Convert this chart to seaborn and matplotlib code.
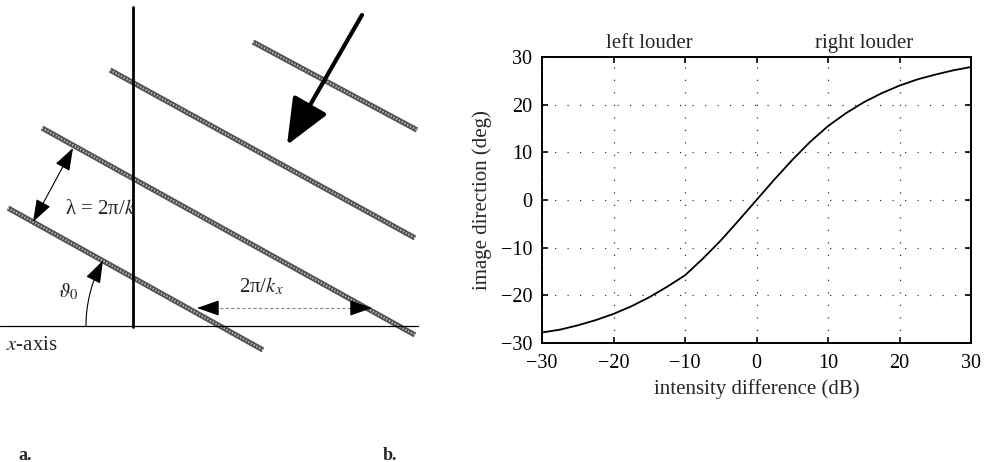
import numpy as np
import pandas as pd
import matplotlib
matplotlib.use("Agg")
import matplotlib.pyplot as plt
import seaborn as sns

# ---- data (panel b) ----
intensity_db = [-30, -27.5, -25, -22.5, -20, -17.5, -15, -12.5, -10, -7.5, -5, -2.5,
                0, 2.5, 5, 7.5, 10, 12.5, 15, 17.5, 20, 22.5, 25, 27.5, 30]
direction_deg = [-27.8, -27.2, -26.3, -25.2, -23.9, -22.3, -20.4, -18.2, -15.8, -12.3, -8.5, -4.3,
                 0.0, 4.3, 8.4, 12.2, 15.5, 18.2, 20.5, 22.4, 24.0, 25.3, 26.3, 27.2, 27.9]
x_ticks = [-30, -20, -10, 0, 10, 20, 30]
y_ticks = [-30, -20, -10, 0, 10, 20, 30]
top_labels = ["left louder", "right louder"]
top_label_pos = [-15, 15]

sns.set_theme(style="ticks")
plt.rcParams["font.family"] = ["Liberation Serif", "DejaVu Serif"]
plt.rcParams["mathtext.fontset"] = "stix"
plt.rcParams["axes.unicode_minus"] = True

W, H = 989, 462
fig = plt.figure(figsize=(W / 100, H / 100), dpi=100)
fig.patch.set_facecolor("white")

# ---------------- panel a: diagram ----------------
ax0 = fig.add_axes([0, 0, 450 / W, 1])
ax0.set_xlim(0, 450)
ax0.set_ylim(H, 0)
ax0.axis("off")

# wavefronts (hatched grey lines)
wavefronts = [((253, 42), (417, 130)),
              ((110, 70), (415, 238)),
              ((42, 128), (415, 335)),
              ((8, 208), (263, 350))]
for (x1, y1), (x2, y2) in wavefronts:
    ax0.plot([x1, x2], [y1, y2], color="#505050", lw=3.8, solid_capstyle="butt", zorder=2)
    ax0.plot([x1, x2], [y1, y2], color="#c4c4c4", lw=1.5, ls=(0, (0.6, 0.9)),
             solid_capstyle="butt", zorder=3)

# vertical line and x-axis
ax0.plot([133, 133], [7, 327], color="black", lw=2.0, zorder=4)
ax0.plot([0, 418], [326, 326], color="black", lw=0.9, zorder=4)

# big propagation arrow
ax0.annotate("", xy=(287, 145), xytext=(362, 15),
             arrowprops=dict(arrowstyle="-|>,head_length=1.3,head_width=0.55",
                             lw=3.0, color="black", mutation_scale=22, shrinkA=0, shrinkB=0),
             zorder=5)

# lambda double arrow
ax0.annotate("", xy=(73, 148), xytext=(33, 222),
             arrowprops=dict(arrowstyle="<|-|>,head_length=1.0,head_width=0.35",
                             lw=0.8, color="black", mutation_scale=14, shrinkA=0, shrinkB=0),
             zorder=5)
ax0.text(100, 209, "λ = 2π/$k$", fontsize=15, ha="center", va="center")

# theta arc
cx, cy, r = 221, 326, 135
phi = np.radians(np.linspace(180, 153, 60))
ax0.plot(cx + r * np.cos(phi), cy - r * np.sin(phi), color="black", lw=0.8, zorder=5)
pe = np.radians(151)
ps = np.radians(156)
ax0.annotate("", xy=(cx + r * np.cos(pe), cy - r * np.sin(pe)),
             xytext=(cx + r * np.cos(ps), cy - r * np.sin(ps)),
             arrowprops=dict(arrowstyle="-|>,head_length=1.0,head_width=0.35",
                             lw=0.8, color="black", mutation_scale=14, shrinkA=0, shrinkB=0),
             zorder=5)
ax0.text(68, 292, r"$\vartheta_0$", fontsize=15, ha="center", va="center")

# 2pi/kx dimension
ax0.plot([214, 356], [308, 308], color="#888888", lw=0.8, ls=(0, (3, 2)), zorder=4)
ax0.annotate("", xy=(197, 308), xytext=(216, 308),
             arrowprops=dict(arrowstyle="-|>,head_length=1.0,head_width=0.35",
                             lw=0.8, color="black", mutation_scale=14, shrinkA=0, shrinkB=0), zorder=5)
ax0.annotate("", xy=(372, 308), xytext=(353, 308),
             arrowprops=dict(arrowstyle="-|>,head_length=1.0,head_width=0.35",
                             lw=0.8, color="black", mutation_scale=14, shrinkA=0, shrinkB=0), zorder=5)
ax0.text(261, 286, "2π/$k_x$", fontsize=15, ha="center", va="center")

ax0.text(6, 345, r"$x$-axis", fontsize=15, ha="left", va="center")

# ---------------- panel b: curve ----------------
ax = fig.add_axes([542 / W, 1 - 343 / H, (971 - 542) / W, (343 - 57) / H])
df = pd.DataFrame({"intensity": intensity_db, "direction": direction_deg})
sns.lineplot(data=df, x="intensity", y="direction", ax=ax, color="black", lw=1.3)
ax.set_xlim(-30, 30)
ax.set_ylim(-30, 30)
ax.set_xticks(x_ticks)
ax.set_yticks(y_ticks)
ax.grid(True, color="#333333", lw=0.9, ls=(0, (1, 9)))
ax.tick_params(direction="in", length=4, width=1.2, top=True, right=True,
               labelsize=14.5, colors="black")
ax.tick_params(axis="x", pad=8)
ax.tick_params(axis="y", pad=7)
for s in ax.spines.values():
    s.set_visible(True)
    s.set_linewidth(1.4)
    s.set_color("black")
ax.set_xlabel("intensity difference (dB)", fontsize=15, labelpad=4)
ax.set_ylabel("image direction (deg)", fontsize=15, labelpad=6)
for lab, xp in zip(top_labels, top_label_pos):
    ax.text(xp, 30.9, lab, fontsize=15, ha="center", va="bottom")

fig.text(18 / W, 1 - 455 / H, "a.", fontsize=13, fontweight="bold", ha="left", va="center")
fig.text(383 / W, 1 - 455 / H, "b.", fontsize=13, fontweight="bold", ha="left", va="center")

fig.savefig("out.png", dpi=100)
